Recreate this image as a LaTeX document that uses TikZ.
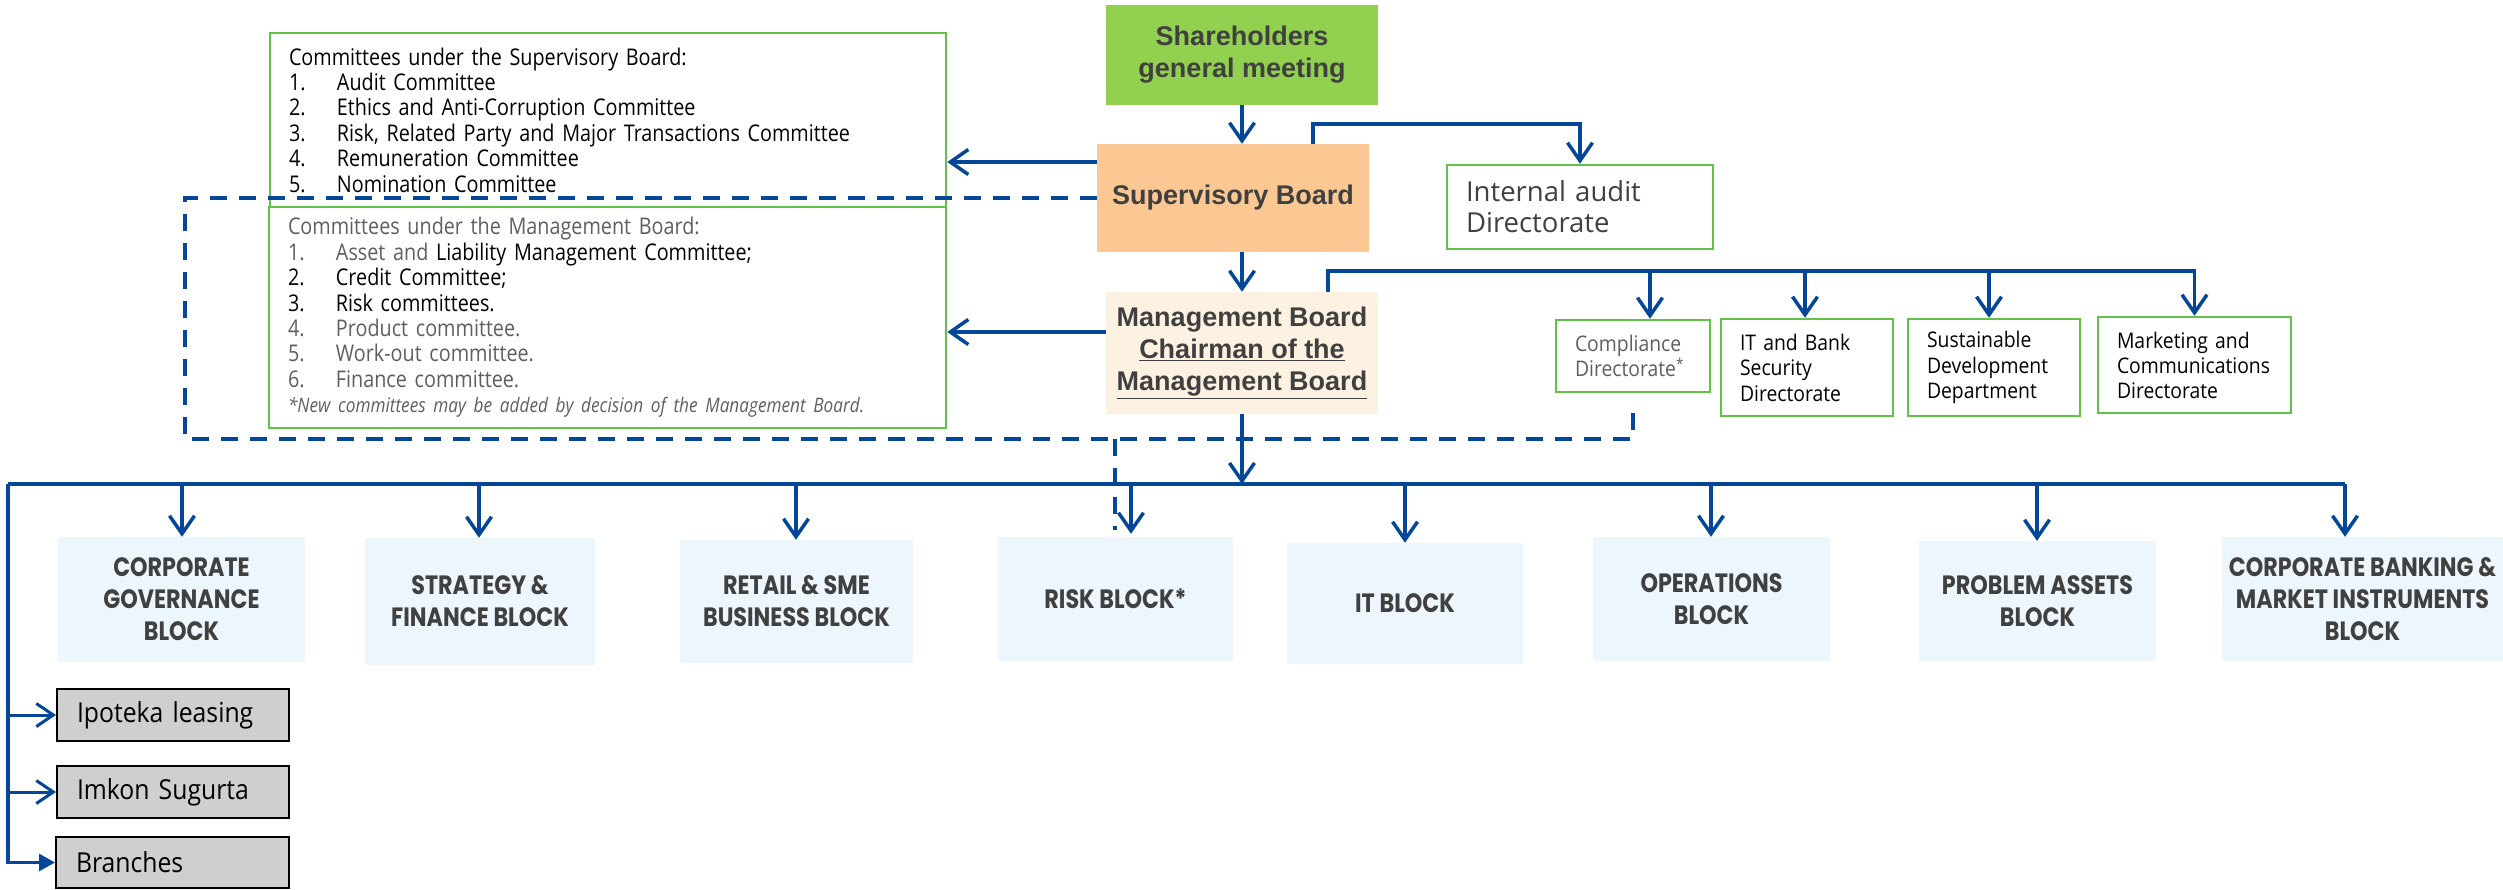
\documentclass[tikz,border=0pt]{standalone}
\usepackage{fontspec}
\usetikzlibrary{arrows.meta,calc}
\newfontfamily\seg{Open Sans}[FakeStretch=0.9]
\newfontfamily\segn{Open Sans}
\newfontfamily\segc{Open Sans}[FakeStretch=0.86]
\newfontfamily\arl{Liberation Sans}
\newfontfamily\goth{Poppins}[FakeStretch=0.84]
\definecolor{lb}{RGB}{4,70,152}
\definecolor{gb}{RGB}{98,193,72}
\definecolor{shg}{RGB}{146,208,80}
\definecolor{peach}{RGB}{251,200,148}
\definecolor{cream}{RGB}{253,242,226}
\definecolor{blkfill}{RGB}{237,245,253}
\definecolor{subg}{RGB}{208,206,206}
\definecolor{dg}{RGB}{64,64,64}
\definecolor{mg}{RGB}{95,95,95}
\hyphenpenalty=10000
\exhyphenpenalty=10000
\newcommand\itm[1]{\makebox[48pt][l]{#1}}
\begin{document}
\begin{tikzpicture}[x=1pt,y=-1pt,
  conn/.style={draw=lb,line width=4pt},
  arr/.style={draw=lb,line width=3.5pt,-{Straight Barb[length=18pt,width=25pt]}},
  sarr/.style={draw=lb,line width=3pt,-{Straight Barb[length=17pt,width=23pt]}},
  tarr/.style={draw=lb,line width=3pt,-{Triangle[length=16pt,width=17pt]}},
  dsh/.style={draw=lb,line width=4pt,dash pattern=on 17pt off 12pt},
  gbox/.style={draw=gb,line width=2.5pt,fill=white,inner ysep=0pt,inner xsep=19pt,align=left},
  topbox/.style={inner sep=0pt,align=center,text=dg,font=\arl\bfseries\fontsize{27}{32}\selectfont},
  bbox/.style={fill=blkfill,inner sep=0pt,align=center,text=dg,font=\goth\bfseries\fontsize{26.5}{32}\selectfont},
  subbox/.style={fill=subg,draw=black,line width=2pt,inner ysep=0pt,inner xsep=20pt,align=left,font=\seg\fontsize{27.5}{32}\selectfont}
]
\useasboundingbox (0,0) rectangle (2503,889);

% committees boxes
\node[gbox,minimum height=174pt,text width=638pt,font=\segc\fontsize{23}{25.4}\selectfont] (scom) at (608,120)
 {Committees under the Supervisory Board:\\
  \itm{1.}Audit Committee\\
  \itm{2.}Ethics and Anti-Corruption Committee\\
  \itm{3.}Risk, Related Party and Major Transactions Committee\\
  \itm{4.}Remuneration Committee\\
  \itm{5.}Nomination Committee};
\node[gbox,minimum height=221pt,text width=639pt,font=\segc\fontsize{23}{25.4}\selectfont] (mcom) at (607.5,317.5)
 {{\color{mg}Committees under the Management Board:}\\
  {\color{mg}\itm{1.}Asset and} Liability Management Committee;\\
  \itm{2.}Credit Committee;\\
  \itm{3.}Risk committees.\\
  {\color{mg}\itm{4.}Product committee.}\\
  {\color{mg}\itm{5.}Work-out committee.}\\
  {\color{mg}\itm{6.}Finance committee.}\\
  {\color{mg}\itshape\fontsize{20}{25.4}\selectfont *New committees may be added by decision of the Management Board.}};

% top boxes
\node[topbox,fill=shg,minimum width=272pt,minimum height=100pt] (sh) at (1242,55) {Shareholders\\general meeting};
\node[topbox,fill=peach,minimum width=272pt,minimum height=108pt] (SB) at (1233,198) {Supervisory Board};
\node[topbox,fill=cream,minimum width=272pt,minimum height=122pt] (MB) at (1242,353)
 {Management Board\\\underline{Chairman of the}\\\underline{Management Board}};

% directorates
\node[gbox,minimum height=84pt,text width=228pt,text=dg,font=\segn\fontsize{27.5}{31}\selectfont] (IA) at (1580,207) {Internal audit\\Directorate};
\node[gbox,minimum height=72pt,text width=116pt,text=mg,font=\seg\fontsize{21.5}{25}\selectfont] (Comp) at (1633,356) {Compliance\\Directorate\textsuperscript{*}};
\node[gbox,minimum height=97pt,text width=134pt,text=black,font=\seg\fontsize{21.5}{25.5}\selectfont] (ITd) at (1807,367.5) {IT and Bank\\Security\\Directorate};
\node[gbox,minimum height=97pt,text width=134pt,text=black,font=\seg\fontsize{21.5}{25.5}\selectfont] (Sust) at (1994,367.5) {Sustainable\\Development\\Department};
\node[gbox,minimum height=96pt,text width=155pt,text=black,font=\seg\fontsize{21.5}{25}\selectfont] (Mkt) at (2194.5,365) {Marketing and\\Communications\\Directorate};

% blocks
\node[bbox,minimum width=247pt,minimum height=125pt] (B1) at (181.5,599.5) {CORPORATE\\GOVERNANCE\\BLOCK};
\node[bbox,minimum width=230pt,minimum height=127pt] (B2) at (480,601.5) {STRATEGY \&\\FINANCE BLOCK};
\node[bbox,minimum width=233pt,minimum height=123pt] (B3) at (796.5,601.5) {RETAIL \& SME\\BUSINESS BLOCK};
\node[bbox,minimum width=235pt,minimum height=124pt] (B4) at (1115.5,599) {RISK BLOCK*};
\node[bbox,minimum width=236pt,minimum height=121pt] (B5) at (1405,603.5) {IT BLOCK};
\node[bbox,minimum width=237pt,minimum height=124pt] (B6) at (1711.5,599) {OPERATIONS\\BLOCK};
\node[bbox,minimum width=237pt,minimum height=120pt] (B7) at (2037.5,601) {PROBLEM ASSETS\\BLOCK};
\node[bbox,minimum width=281pt,minimum height=124pt] (B8) at (2362.5,599) {CORPORATE BANKING \&\\MARKET INSTRUMENTS\\BLOCK};

% subsidiaries
\node[subbox,minimum height=52pt,text width=192pt] (S1) at (173,715) {Ipoteka leasing};
\node[subbox,minimum height=52pt,text width=192pt] (S2) at (173,792) {Imkon Sugurta};
\node[subbox,minimum height=51pt,text width=193pt] (S3) at (172.5,862.5) {Branches};

% connectors top
\draw[arr] (sh.south) -- (sh.south |- SB.north);
\coordinate (sbia) at (1313,124);
\draw[arr] (SB.north -| sbia) -- (sbia) -| (IA.north);
\draw[arr] ([yshift=36pt]SB.west) -- ([yshift=36pt]SB.west -| scom.east);
\draw[arr] ([yshift=21pt]MB.west) -- ([yshift=21pt]MB.west -| mcom.east);
\draw[arr] (MB.north |- SB.south) -- (MB.north);

\coordinate (mbd) at (1328,271);
\draw[arr] (MB.north -| mbd) -- (mbd) -| (Mkt.north);
\coordinate (cd) at (1650,271);
\coordinate (itdd) at (1805,271);
\coordinate (sdd) at (1989,271);
\draw[arr] (cd) -- (cd |- Comp.north);
\draw[arr] (itdd) -- (itdd |- ITd.north);
\draw[arr] (sdd) -- (sdd |- Sust.north);

% bus
\coordinate (busL) at (8,484);
\coordinate (busR) at (2345,484);
\draw[conn] (busL) -- (busR);
\draw[arr] (MB.south) -- (MB.south |- busL);
\coordinate (ba1) at (182,484);
\coordinate (ba2) at (479,484);
\coordinate (ba3) at (796,484);
\coordinate (ba4) at (1131,484);
\coordinate (ba5) at (1405,484);
\coordinate (ba6) at (1711,484);
\coordinate (ba7) at (2037,484);
\draw[arr] (ba1) -- (ba1 |- B1.north);
\draw[arr] (ba2) -- (ba2 |- B2.north);
\draw[arr] (ba3) -- (ba3 |- B3.north);
\draw[arr] (ba4) -- ([yshift=3pt]ba4 |- B4.north);
\draw[arr] (ba5) -- (ba5 |- B5.north);
\draw[arr] (ba6) -- (ba6 |- B6.north);
\draw[arr] (ba7) -- (ba7 |- B7.north);
\draw[arr] (busR) -- (busR |- B8.north);

% left subsidiaries
\draw[conn,line width=3.5pt] (busL) -- (busL |- S3.west);
\draw[sarr] (busL |- S1.west) -- (S1.west);
\draw[sarr] (busL |- S2.west) -- (S2.west);
\draw[tarr] ([xshift=-1.75pt]busL |- S3.west) -- (S3.west);

% dashed lines
\coordinate (dTL) at (185,198);
\coordinate (dBL) at (185,439);
\coordinate (dBR) at (1633,439);
\coordinate (dR) at (1115,439);
\draw[dsh] (SB.west) -- (dTL) -- (dBL) -- (dBR) -- ([yshift=-10pt]Comp.south);
\draw[dsh] (dR) -- ++(0,91);
\end{tikzpicture}
\end{document}
